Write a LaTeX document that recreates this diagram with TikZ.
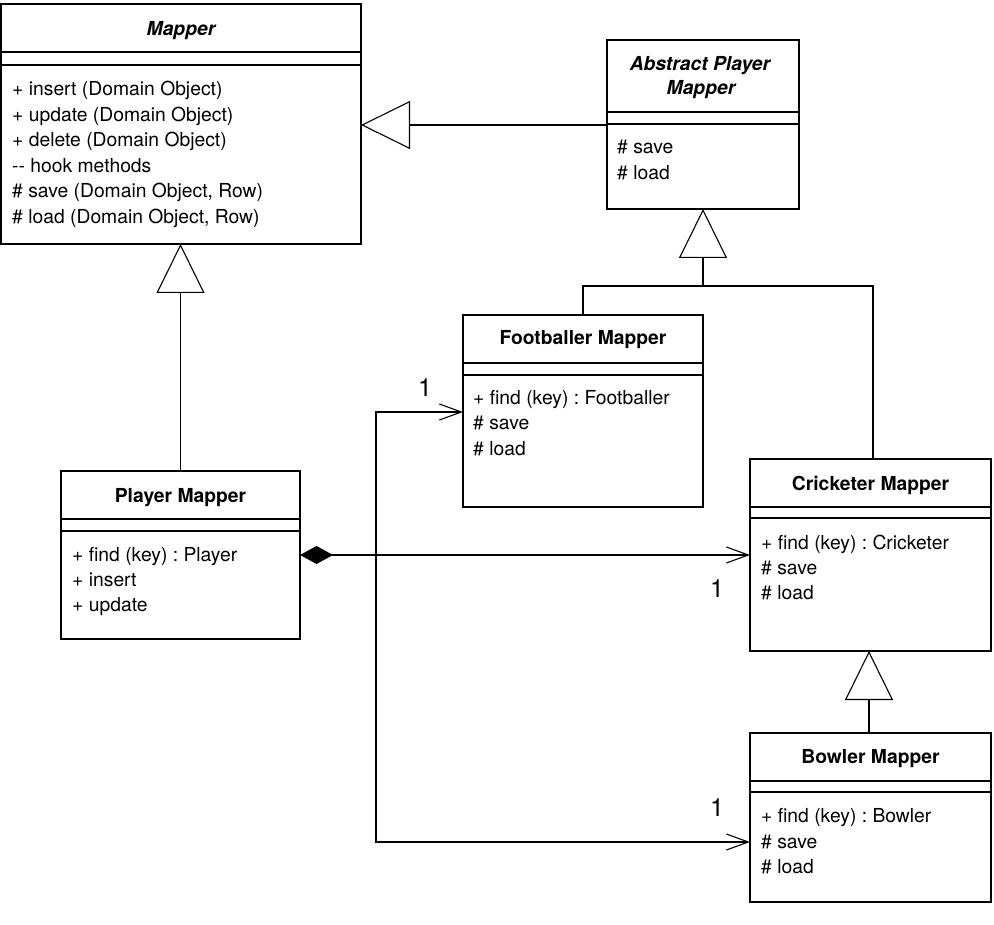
\documentclass[tikz,border=0pt]{standalone}
\usepackage{fontspec}
\setmainfont{TeX Gyre Heros}
\usetikzlibrary{arrows.meta}
\frenchspacing
\tikzset{
  box/.style={draw, line width=1.1pt, inner sep=0pt, outer sep=0pt, anchor=north west},
  sepline/.style={line width=1.1pt},
  txt/.style={font=\fontsize{19.3}{22}\selectfont, inner sep=0pt, anchor=base west},
  ttl/.style={font=\fontsize{19.3}{22}\selectfont\bfseries, inner sep=0pt, anchor=base},
  ittl/.style={font=\fontsize{19.3}{22}\selectfont\bfseries\itshape, inner sep=0pt, anchor=base},
  mult/.style={font=\fontsize{25}{28}\selectfont, inner sep=0pt, anchor=base},
  link/.style={line width=1.1pt},
  inh/.style={link, -{Triangle[open, length=49pt, width=48pt, line width=1.1pt]}},
  nav/.style={link, -{Straight Barb[length=22pt, width=16pt, line width=1.1pt]}},
  comp/.style={link, {Diamond[length=33pt, width=18pt]}-{Straight Barb[length=22pt, width=16pt, line width=1.1pt]}},
}
\begin{document}
\begin{tikzpicture}[x=1pt, y=-1pt]
\useasboundingbox (0,0) rectangle (994,925);

% ---------- Mapper
\node[box, minimum width=360pt, minimum height=240pt] (mapper) at (1,4) {};
\draw[sepline] (mapper.west |- 0,52) -- (mapper.east |- 0,52);
\draw[sepline] (mapper.west |- 0,65) -- (mapper.east |- 0,65);
\node[ittl] (mapperT) at (181,36) {Mapper};
\node[txt] (mapper1) at (12,96) {+ insert (Domain Object)};
\node[txt] (mapper2) at (12,121.5) {+ update (Domain Object)};
\node[txt] (mapper3) at (12,147) {+ delete (Domain Object)};
\node[txt] (mapper4) at (12,172.5) {-{}- hook methods};
\node[txt] (mapper5) at (12,198) {\# save (Domain Object, Row)};
\node[txt] (mapper6) at (12,223.5) {\# load (Domain Object, Row)};

% ---------- Abstract Player Mapper
\node[box, minimum width=192pt, minimum height=169pt] (abs) at (607,40) {};
\draw[sepline] (abs.west |- 0,112) -- (abs.east |- 0,112);
\draw[sepline] (abs.west |- 0,124) -- (abs.east |- 0,124);
\node[ittl] (absT1) at (700,71) {Abstract Player};
\node[ittl] (absT2) at (701,95) {Mapper};
\node[txt] (abs1) at (617,154) {\# save};
\node[txt] (abs2) at (617,180) {\# load};

% ---------- Footballer Mapper
\node[box, minimum width=240pt, minimum height=192pt] (foot) at (463,315) {};
\draw[sepline] (foot.west |- 0,363) -- (foot.east |- 0,363);
\draw[sepline] (foot.west |- 0,375) -- (foot.east |- 0,375);
\node[ttl] (footT) at (583,345) {Footballer Mapper};
\node[txt] (foot1) at (473,405) {+ find (key) : Footballer};
\node[txt] (foot2) at (473,430) {\# save};
\node[txt] (foot3) at (473,455) {\# load};

% ---------- Player Mapper
\node[box, minimum width=239pt, minimum height=168pt] (player) at (61,471) {};
\draw[sepline] (player.west |- 0,519) -- (player.east |- 0,519);
\draw[sepline] (player.west |- 0,531) -- (player.east |- 0,531);
\node[ttl] (playerT) at (180.5,502) {Player Mapper};
\node[txt] (player1) at (72,561) {+ find (key) : Player};
\node[txt] (player2) at (72,586) {+ insert};
\node[txt] (player3) at (72,611) {+ update};

% ---------- Cricketer Mapper
\node[box, minimum width=241pt, minimum height=192pt] (crick) at (750,459) {};
\draw[sepline] (crick.west |- 0,507) -- (crick.east |- 0,507);
\draw[sepline] (crick.west |- 0,518) -- (crick.east |- 0,518);
\node[ttl] (crickT) at (870.5,490) {Cricketer Mapper};
\node[txt] (crick1) at (761,549) {+ find (key) : Cricketer};
\node[txt] (crick2) at (761,574) {\# save};
\node[txt] (crick3) at (761,599) {\# load};

% ---------- Bowler Mapper
\node[box, minimum width=241pt, minimum height=169pt] (bowl) at (750,733) {};
\draw[sepline] (bowl.west |- 0,781) -- (bowl.east |- 0,781);
\draw[sepline] (bowl.west |- 0,792) -- (bowl.east |- 0,792);
\node[ttl] (bowlT) at (870.5,763) {Bowler Mapper};
\node[txt] (bowl1) at (761,822) {+ find (key) : Bowler};
\node[txt] (bowl2) at (761,848) {\# save};
\node[txt] (bowl3) at (761,873) {\# load};

% ---------- generalisations
\draw[inh] (abs.west |- 0,125) -- (mapper.east |- 0,125);
\draw[inh] (player.north) -- (mapper.south -| player.north);
\coordinate (junc) at (703,286);
\coordinate (absfoot) at (703,209);
\draw[inh] (junc) -- (absfoot);
\draw[link] (foot.north) |- (junc);
\coordinate (crtop) at (873,459);
\draw[link] (crtop) |- (junc);
\coordinate (bwtop) at (869,733);
\coordinate (crbot) at (869,651);
\draw[inh] (bwtop) -- (crbot);

% ---------- associations
\coordinate (pl) at (300,555);
\coordinate (cr) at (750,555);
\draw[comp] (pl) -- (cr);
\coordinate (split) at (376,555);
\coordinate (ft) at (463,412);
\coordinate (bw) at (750,842);
\draw[nav] (split) |- (ft);
\draw[nav] (split) |- (bw);

\node[mult] (m1) at (425,396) {1};
\node[mult] (m2) at (717,597) {1};
\node[mult] (m3) at (717,816) {1};
\end{tikzpicture}
\end{document}
